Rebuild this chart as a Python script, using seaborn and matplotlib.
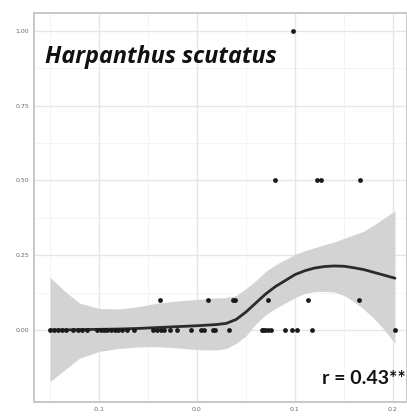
import matplotlib
matplotlib.use("Agg")
import matplotlib.pyplot as plt
import seaborn as sns
import pandas as pd
import numpy as np

# observed points
x_zero = [-0.150, -0.146, -0.142, -0.138, -0.134, -0.127, -0.121, -0.117, -0.112, -0.102,
          -0.098, -0.095, -0.092, -0.088, -0.084, -0.081, -0.076, -0.071, -0.064, -0.045,
          -0.041, -0.037, -0.034, -0.028, -0.020, -0.006, 0.004, 0.007, 0.016, 0.018,
          0.033, 0.066, 0.067, 0.069, 0.072, 0.076, 0.090, 0.097, 0.102, 0.117, 0.202]
x_tenth = [-0.038, 0.011, 0.037, 0.039, 0.072, 0.113, 0.165]
x_half = [0.080, 0.122, 0.127, 0.166]
x_one = [0.098]

# smoother
sm_x = [-0.150, -0.135, -0.12, -0.10, -0.08, -0.06, -0.04, -0.02, 0.0, 0.02, 0.03, 0.04,
        0.05, 0.06, 0.07, 0.08, 0.09, 0.10, 0.11, 0.12, 0.13, 0.14, 0.15, 0.16, 0.17,
        0.18, 0.19, 0.202]
sm_y = [0.0, 0.0, 0.001, 0.002, 0.003, 0.005, 0.008, 0.011, 0.014, 0.018, 0.022, 0.035,
        0.06, 0.09, 0.12, 0.145, 0.165, 0.185, 0.198, 0.207, 0.212, 0.214, 0.213, 0.208,
        0.202, 0.193, 0.184, 0.173]
sm_hi = [0.176, 0.13, 0.09, 0.072, 0.07, 0.078, 0.09, 0.097, 0.102, 0.107, 0.108, 0.115,
         0.138, 0.165, 0.195, 0.218, 0.235, 0.252, 0.265, 0.275, 0.285, 0.294, 0.306,
         0.318, 0.33, 0.35, 0.372, 0.398]
sm_lo = [-0.173, -0.134, -0.095, -0.072, -0.062, -0.057, -0.056, -0.06, -0.066, -0.067,
         -0.062, -0.045, -0.02, 0.02, 0.05, 0.072, 0.09, 0.108, 0.122, 0.128, 0.129, 0.127,
         0.115, 0.095, 0.07, 0.04, 0.005, -0.045]

x_ticks = [-0.1, 0.0, 0.1, 0.2]
x_ticklabels = ["-0.1", "0.0", "0.1", "0.2"]
y_ticks = [0.0, 0.25, 0.5, 0.75, 1.0]
y_ticklabels = ["0.00", "0.25", "0.50", "0.75", "1.00"]

pts = pd.DataFrame({
    "x": x_zero + x_tenth + x_half + x_one,
    "y": [0.0] * len(x_zero) + [0.1] * len(x_tenth) + [0.5] * len(x_half) + [1.0] * len(x_one),
})
smooth = pd.DataFrame({"x": sm_x, "y": sm_y, "lo": sm_lo, "hi": sm_hi})

sns.set_style("white")
fig = plt.figure(figsize=(4.07, 4.16), dpi=100)
ax = fig.add_axes([0.0835, 0.0337, 0.9165, 0.935])

ax.set_xlim(-0.1663, 0.2143)
ax.set_ylim(-0.241, 1.060)

# grid
for v in [-0.15, -0.05, 0.05, 0.15]:
    ax.axvline(v, color="#f2f2f2", lw=0.6, zorder=0)
for v in [0.125, 0.375, 0.625, 0.875]:
    ax.axhline(v, color="#f2f2f2", lw=0.6, zorder=0)
for v in x_ticks:
    ax.axvline(v, color="#e6e6e6", lw=1.0, zorder=0)
for v in y_ticks:
    ax.axhline(v, color="#e6e6e6", lw=1.0, zorder=0)

ax.fill_between(smooth["x"], smooth["lo"], smooth["hi"], color="#d3d3d3", lw=0, zorder=1)
sns.lineplot(data=smooth, x="x", y="y", ax=ax, color="#2b2b2b", lw=2.0, zorder=3)
sns.scatterplot(data=pts, x="x", y="y", ax=ax, color="#1a1a1a", s=12, linewidth=0, zorder=4)

ax.set_xticks(x_ticks)
ax.set_xticklabels(x_ticklabels)
ax.set_yticks(y_ticks)
ax.set_yticklabels(y_ticklabels)
ax.tick_params(axis="both", labelsize=4.5, labelcolor="#6a6a6a", color="#9a9a9a",
               length=2, width=0.6, pad=1.5, direction="out")
ax.set_xlabel("")
ax.set_ylabel("")
for s in ax.spines.values():
    s.set_color("#c8c8c8")
    s.set_linewidth(1.4)

ax.text(0.030, 0.888, "Harpanthus scutatus", transform=ax.transAxes,
        fontsize=16.8, fontweight="bold", fontstyle="italic", family="Open Sans",
        color="#111111", ha="left", va="center")
ax.text(0.772, 0.060, "r = 0.43**", transform=ax.transAxes,
        fontsize=14, fontweight="bold", family="Lato",
        color="#111111", ha="left", va="center")

fig.savefig("out.png", dpi=100)
